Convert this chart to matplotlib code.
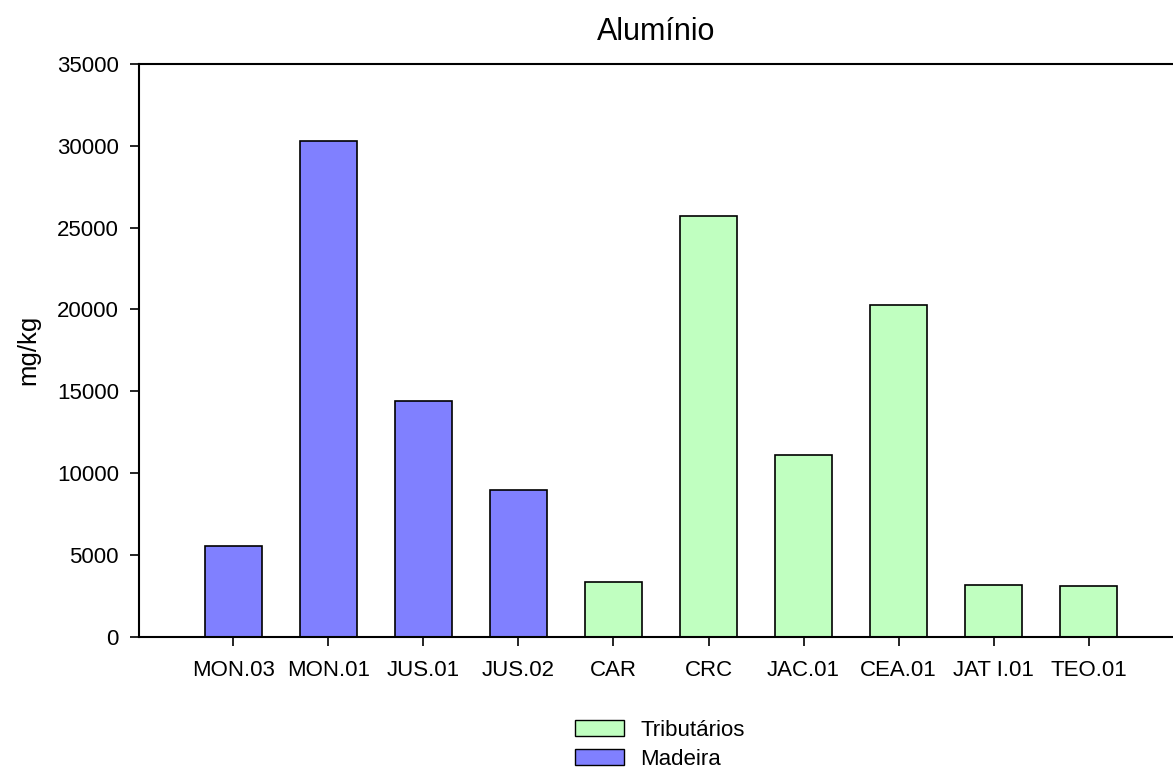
import matplotlib.pyplot as plt
from matplotlib.patches import Patch

plt.rcParams['font.family'] = ['Liberation Sans', 'DejaVu Sans']

estacoes = ["MON.03", "MON.01", "JUS.01", "JUS.02", "CAR", "CRC",
            "JAC.01", "CEA.01", "JAT I.01", "TEO.01"]
aluminio = [5540, 30300, 14400, 8950, 3350, 25700, 11100, 20300, 3160, 3120]
grupo = ["Madeira", "Madeira", "Madeira", "Madeira", "Tributários", "Tributários",
         "Tributários", "Tributários", "Tributários", "Tributários"]

cores = {"Madeira": "#8080FF", "Tributários": "#C0FFC0"}

fig = plt.figure(figsize=(11.73, 7.7), dpi=100)
ax = fig.add_axes([139 / 1173, 133.3 / 770, 1 - 139 / 1173, 572.7 / 770])

x = list(range(len(estacoes)))
ax.bar(x, aluminio, width=0.6, color=[cores[g] for g in grupo],
       edgecolor="black", linewidth=1.2)

ax.set_xlim(-0.992, 9.887)
ax.set_ylim(0, 35000)
ax.set_xticks(x)
ax.set_xticklabels(estacoes)
ax.set_yticks(range(0, 35001, 5000))
ax.tick_params(direction="out", length=6.5, width=1.2, labelsize=16, pad=8)
ax.tick_params(axis="x", pad=10)
ax.spines["right"].set_visible(False)
for s in ["left", "bottom", "top"]:
    ax.spines[s].set_linewidth(1.5)

ax.set_ylabel("mg/kg", fontsize=18.5, labelpad=12)
ax.set_title("Alumínio", fontsize=22, pad=17)

handles = [Patch(facecolor=cores["Tributários"], edgecolor="black", label="Tributários"),
           Patch(facecolor=cores["Madeira"], edgecolor="black", label="Madeira")]
fig.legend(handles=handles, loc="center", bbox_to_anchor=(660 / 1173, 1 - 745 / 770),
           frameon=False, fontsize=16, handlelength=2.2, handleheight=0.75,
           handletextpad=0.75, labelspacing=0.36, borderpad=0)

fig.savefig("out.png", dpi=100)
